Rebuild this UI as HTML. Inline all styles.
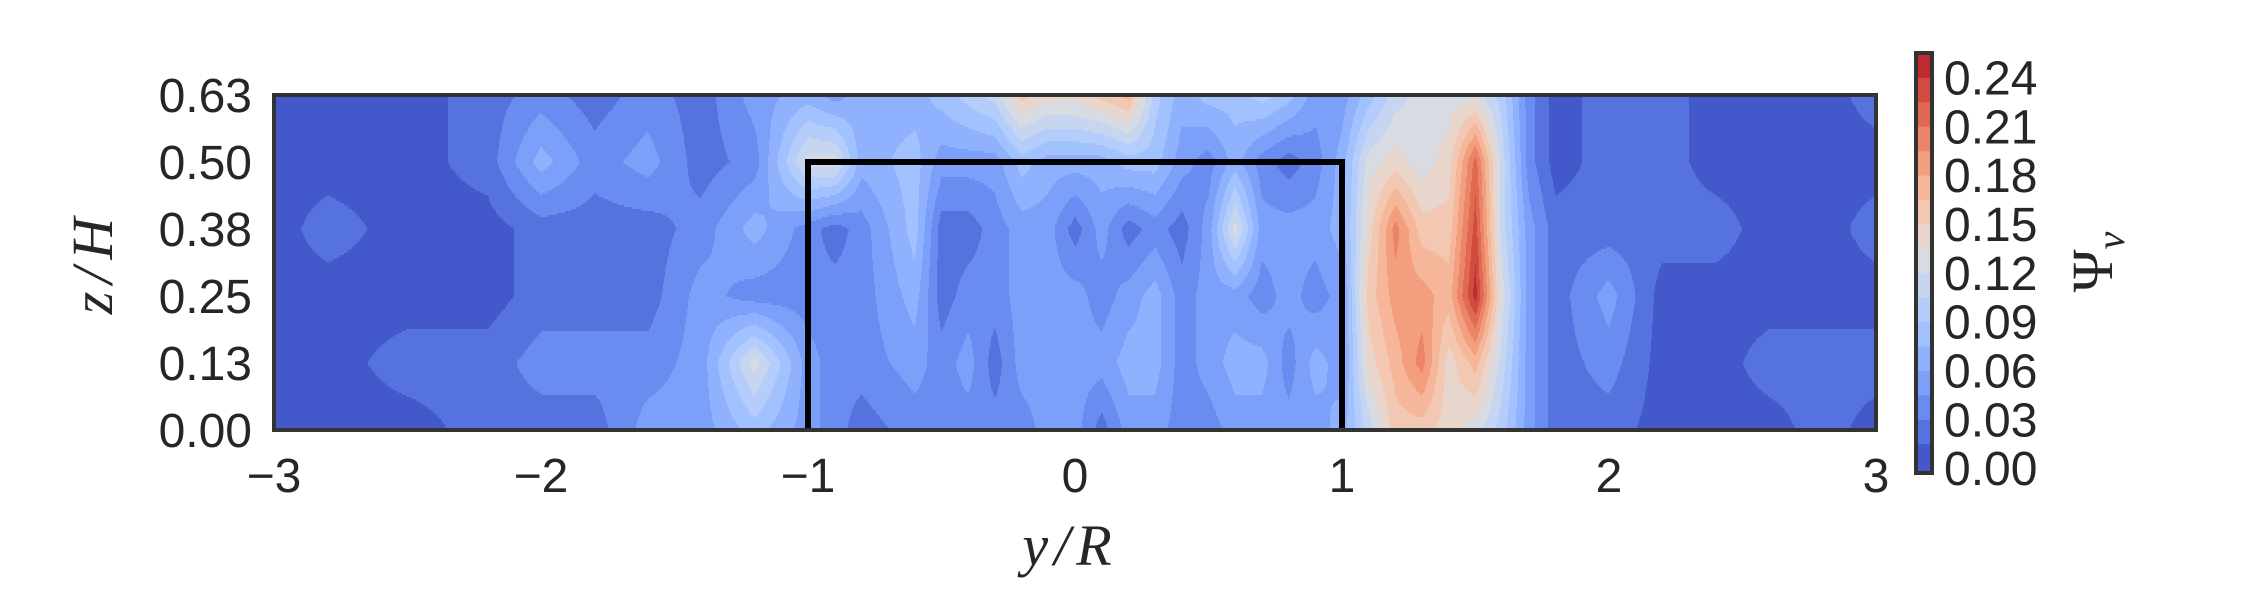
<!DOCTYPE html>
<html><head><meta charset="utf-8"><style>
html,body{margin:0;padding:0;background:#fff;}
svg{display:block;}
text{font-family:"Liberation Sans",sans-serif;fill:#262626;}
</style></head><body>
<svg id="chart" width="2250" height="600" viewBox="0 0 2250 600" xmlns="http://www.w3.org/2000/svg">
<g id="field"></g>
<g id="overlay"></g>
</svg>
<script>
// ---- data ----
const ys = [-3,-2.8,-2.5,-2.2,-2.0,-1.8,-1.6,-1.4,-1.2,-1.0,-0.9,-0.8,-0.6,-0.5,-0.4,-0.3,-0.2,-0.1,0,0.1,0.2,0.3,0.4,0.5,0.6,0.7,0.8,0.9,1.0,1.1,1.2,1.3,1.4,1.5,1.6,1.7,1.8,2.0,2.2,2.4,2.6,2.8,3.0];
const zs = [0,0.125,0.25,0.375,0.5,0.625];
const psiZ000 = [.008,.008,.008,.022,.022,.022,.052,.052,.082,.052, .037,.022,.037,.037,.037,.037,.037,.052,.052,.022, .052,.052,.037,.037,.052,.052,.052,.052,.067,.112, .157,.157,.142,.127,.097,.052,.022,.022,.008,.008, .008,.022,.008];
const psiZ125 = [.008,.008,.022,.022,.037,.037,.037,.052,.127,.052, .037,.037,.052,.037,.052,.022,.052,.052,.052,.052, .067,.067,.037,.052,.067,.067,.037,.067,.052,.142, .172,.202,.142,.172,.112,.052,.022,.037,.008,.008, .022,.022,.022];
const psiZ250 = [.008,.008,.008,.008,.022,.022,.022,.052,.037,.037, .037,.037,.067,.022,.037,.037,.052,.052,.052,.037, .052,.067,.037,.052,.052,.037,.052,.037,.052,.157, .187,.187,.172,.247,.127,.052,.022,.052,.008,.008, .008,.008,.008];
const psiZ375 = [.008,.022,.008,.008,.022,.022,.022,.037,.067,.037, .022,.037,.082,.022,.022,.037,.052,.052,.022,.052, .022,.037,.022,.052,.127,.052,.052,.052,.067,.142, .202,.157,.157,.232,.112,.052,.022,.022,.022,.022, .008,.008,.022];
const psiZ500 = [.008,.008,.008,.022,.067,.037,.052,.022,.037,.127, .127,.067,.082,.052,.052,.052,.082,.067,.067,.067, .082,.082,.052,.037,.067,.037,.022,.037,.067,.127, .142,.127,.142,.217,.112,.037,.008,.022,.022,.008, .008,.008,.008];
const psiZ625 = [.008,.008,.008,.022,.037,.022,.037,.022,.052,.067, .052,.067,.067,.082,.097,.112,.157,.142,.142,.157, .172,.097,.067,.082,.082,.097,.082,.052,.052,.082, .112,.127,.127,.127,.097,.037,.008,.022,.022,.008, .008,.008,.022];
const psiRows = [psiZ000,psiZ125,psiZ250,psiZ375,psiZ500,psiZ625];
const levelStep = 0.015;
const nLevels = 17;
const xTicks = [-3,-2,-1,0,1,2,3];
const xTickLabels = ["\u22123","\u22122","\u22121","0","1","2","3"];
const yTicks = [0,0.125,0.25,0.375,0.5,0.625];
const yTickLabels = ["0.00","0.13","0.25","0.38","0.50","0.63"];
const cbTicks = [0,0.03,0.06,0.09,0.12,0.15,0.18,0.21,0.24];
const cbTickLabels = ["0.00","0.03","0.06","0.09","0.12","0.15","0.18","0.21","0.24"];
const obstacle = [[-1,0],[-1,0.5],[1,0.5],[1,0]];

const colors = ["#4358cb","#5672df","#6a8bef","#7c9ff9","#8fb1fe","#a2c1ff","#b5cdfa","#c6d6f1","#d8dce2","#e8d6cc","#f2c8b3","#f6b69a","#f49e80","#ec8467","#e06951","#d24b40","#be2a30"];

// ---- layout ----
const L=274,R=1876,T=95,B=430;
const xS = v => L + (v+3)/6*(R-L);
const yS = v => B - v/0.625*(B-T);
const NS="http://www.w3.org/2000/svg";
function mk(tag,attrs,parent){const e=document.createElementNS(NS,tag);for(const k in attrs)e.setAttribute(k,attrs[k]);parent.appendChild(e);return e;}

function interp(y,z){
  let i=0; while(i<ys.length-2 && y>ys[i+1]) i++;
  let tx=(y-ys[i])/(ys[i+1]-ys[i]); tx=Math.max(0,Math.min(1,tx));
  let j=0; while(j<zs.length-2 && z>zs[j+1]) j++;
  let tz=(z-zs[j])/(zs[j+1]-zs[j]); tz=Math.max(0,Math.min(1,tz));
  const a=psiRows[j][i],b=psiRows[j][i+1],c=psiRows[j+1][i],d=psiRows[j+1][i+1];
  return (a*(1-tx)+b*tx)*(1-tz)+(c*(1-tx)+d*tx)*tz;
}
function lvl(v){return Math.max(0,Math.min(nLevels-1,Math.floor(v/levelStep)));}

const field=document.getElementById('field');
const dy=2;
for(let py=T;py<B;py+=dy){
  const z=(B-(py+dy/2))/(B-T)*0.625;
  let start=L, cur=-1;
  for(let px=L;px<=R;px++){
    let l=-2;
    if(px<R){const y=-3+(px+0.5-L)/(R-L)*6; l=lvl(interp(y,z));}
    if(l!==cur){
      if(cur>=0){
        const r=mk('rect',{x:start,y:py,width:px-start+0.6,height:dy+0.6,fill:colors[cur]},field);
        
        
      }
      cur=l; start=px;
    }
  }
}

const ov=document.getElementById('overlay');
const pts=obstacle.map(p=>xS(p[0])+','+yS(p[1])).join(' ');
const ob=mk('polyline',{points:pts,fill:'none',stroke:'#000','stroke-width':6},ov);


const fr=mk('rect',{x:L,y:T,width:R-L,height:B-T,fill:'none',stroke:'#333','stroke-width':4},ov);



xTicks.forEach((t,i)=>{
  const tx=mk('text',{x:xS(t),y:492,'font-size':48,'text-anchor':'middle'},ov);
  tx.textContent=xTickLabels[i];
  
  
});
yTicks.forEach((t,i)=>{
  const tx=mk('text',{x:252,y:yS(t)+17,'font-size':48,'text-anchor':'end'},ov);
  tx.textContent=yTickLabels[i];
  
  
});

// colorbar
const cbX=1916,cbW=16,cbTop=53,cbBot=473,cbMin=-0.003,cbMax=0.255;
const cS=v=>cbBot-(v-cbMin)/(cbMax-cbMin)*(cbBot-cbTop);
for(let k=0;k<nLevels;k++){
  const y0=k===0?cbBot:cS(k*levelStep), y1=cS((k+1)*levelStep);
  const r=mk('rect',{x:cbX,y:Math.min(y0,y1),width:cbW,height:Math.abs(y0-y1)+0.5,fill:colors[k]},ov);
  
  
}
const cbf=mk('rect',{x:cbX,y:cbTop,width:cbW,height:cbBot-cbTop,fill:'none',stroke:'#333','stroke-width':4},ov);


cbTicks.forEach((t,i)=>{
  const tx=mk('text',{x:1944,y:cS(t)+17,'font-size':48},ov);
  tx.textContent=cbTickLabels[i];
  
  
});
</script>
<svg style="position:absolute;left:0;top:0" width="2250" height="600" xmlns="http://www.w3.org/2000/svg">
<text x="1070" y="565" font-size="58" letter-spacing="6" text-anchor="middle" style="font-family:'Liberation Serif',serif;font-style:italic;fill:#262626">y/R</text>
<text transform="translate(112,262) rotate(-90)" font-size="58" letter-spacing="8" text-anchor="middle" style="font-family:'Liberation Serif',serif;font-style:italic;fill:#262626">z/H</text>
<text transform="translate(2112,262) rotate(-90)" font-size="58" text-anchor="middle" style="font-family:'Liberation Serif',serif;fill:#262626">Ψ<tspan font-style="italic" font-size="40" dy="12">v</tspan></text>
</svg>
</body></html>
